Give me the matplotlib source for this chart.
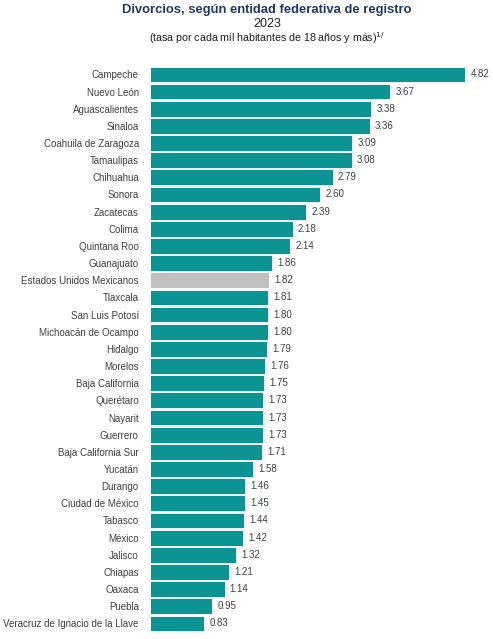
import matplotlib
matplotlib.use("Agg")
import matplotlib.pyplot as plt

states = ["Campeche", "Nuevo León", "Aguascalientes", "Sinaloa", "Coahuila de Zaragoza",
          "Tamaulipas", "Chihuahua", "Sonora", "Zacatecas", "Colima", "Quintana Roo",
          "Guanajuato", "Estados Unidos Mexicanos", "Tlaxcala", "San Luis Potosí",
          "Michoacán de Ocampo", "Hidalgo", "Morelos", "Baja California", "Querétaro",
          "Nayarit", "Guerrero", "Baja California Sur", "Yucatán", "Durango",
          "Ciudad de México", "Tabasco", "México", "Jalisco", "Chiapas", "Oaxaca",
          "Puebla", "Veracruz de Ignacio de la Llave"]
values = [4.82, 3.67, 3.38, 3.36, 3.09, 3.08, 2.79, 2.60, 2.39, 2.18, 2.14, 1.86, 1.82,
          1.81, 1.80, 1.80, 1.79, 1.76, 1.75, 1.73, 1.73, 1.73, 1.71, 1.58, 1.46, 1.45,
          1.44, 1.42, 1.32, 1.21, 1.14, 0.95, 0.83]
national = "Estados Unidos Mexicanos"

plt.rcParams['font.family'] = ['Liberation Sans', 'DejaVu Sans']

fig = plt.figure(figsize=(4.93, 6.39), dpi=100)
ax = fig.add_axes([0.304, 0.011, 0.664, 0.886])

teal = "#0C9494"
gray = "#C0C0C0"
colors = [gray if s == national else teal for s in states]
ypos = list(range(len(states)))
ax.barh(ypos, values, height=0.92, color=colors, edgecolor="white", linewidth=0.6)
ax.set_ylim(len(states) - 0.5, -0.5)
ax.set_xlim(0, 5.0)
ax.set_yticks(ypos)
ax.set_yticklabels(states, fontsize=7, color="#404040")
ax.tick_params(axis='y', length=0, pad=8)
ax.set_xticks([])
for sp in ax.spines.values():
    sp.set_visible(False)
for y, v in zip(ypos, values):
    ax.text(v + 0.08, y, f"{v:.2f}", va="center", ha="left", fontsize=7, color="#404040")

fig.text(0.542, 0.984, "Divorcios, según entidad federativa de registro", ha="center", va="center",
         fontsize=9.4, fontweight="bold", color="#1F3864")
fig.text(0.542, 0.963, "2023", ha="center", va="center", fontsize=9, color="#202020")
fig.text(0.542, 0.940, r"(tasa por cada mil habitantes de 18 años y más)$^{1/}$", ha="center", va="center",
         fontsize=7.7, color="#202020")

fig.savefig("out.png", dpi=100)
